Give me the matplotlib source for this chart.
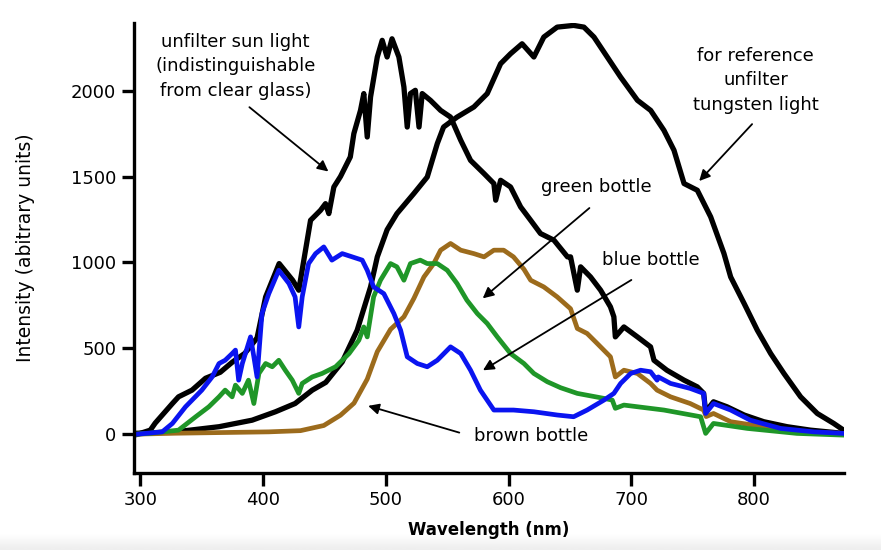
import matplotlib
matplotlib.use("Agg")
import matplotlib.pyplot as plt
import numpy as np

# spectra (wavelength nm, intensity a.u.)
sun_nm = [298, 308, 312, 326, 331, 342, 353, 365, 375, 385, 395, 402, 413, 424, 429,
          434.5, 438.6, 446.7, 450.8, 453.5, 457.6, 463, 471, 473.9, 479.3, 482, 484.8,
          487.5, 493, 497, 501, 505, 510.6, 514.7, 517.4, 520, 524, 527, 529.6, 536.4,
          544.6, 552.7, 561, 569, 580, 588, 589.5, 593.5, 601.6, 609.8, 618, 626, 637,
          648, 650.5, 656, 658.7, 666.8, 675, 683, 685.8, 687, 694, 705, 715.7, 718.5,
          729, 743, 753.8, 759, 760.6, 767, 778, 792, 808, 827, 846, 873]
sun_int = [0, 23, 64, 178, 217, 256, 325, 360, 420, 470, 560, 799, 993, 896, 838,
           1071, 1245, 1303, 1342, 1284, 1439, 1500, 1614, 1750, 1885, 1983, 1730,
           1963, 2196, 2293, 2196, 2302, 2196, 2021, 1788, 1983, 2002, 1788, 1983, 1943,
           1885, 1846, 1711, 1594, 1517, 1459, 1362, 1478, 1439, 1323, 1245, 1168, 1129,
           1032, 1032, 838, 974, 915, 838, 741, 683, 566, 624, 566, 508, 430,
           372, 314, 275, 237, 130, 188, 159, 111, 72, 43, 23, 4]

tung_nm = [298, 328.5, 364, 391, 410, 426, 440, 451, 464.4, 476.6, 487.5, 493, 501,
           509, 522.8, 533.7, 541.9, 547, 558, 571.7, 582.6, 593.5, 601.6, 611, 620.6,
           628.7, 639.6, 653, 661.4, 669.6, 680.4, 691.3, 705, 715.8, 726.6, 734.8, 743,
           753.8, 764.7, 775.5, 781, 792, 802.7, 813.6, 824.4, 838, 851.6, 865, 873]
tung_int = [5, 13, 43, 81, 130, 178, 256, 301, 420, 605, 857, 1032, 1190,
            1284, 1401, 1497, 1692, 1788, 1846, 1905, 1983, 2157, 2215, 2273, 2196,
            2312, 2370, 2380, 2370, 2312, 2196, 2079, 1944, 1885, 1769, 1653, 1459,
            1420, 1265, 1052, 915, 760, 605, 469, 353, 217, 120, 62, 23]

blue_nm = [298, 317.7, 326, 336.7, 350, 358.4, 364, 369, 374.7, 377.4, 380, 383, 389.7,
           392.4, 395, 399, 404.6, 412.7, 421, 426, 429, 431.8, 437, 442.7, 449.4, 456,
           464.4, 472.6, 480.7, 484.8, 490, 498.3, 506.5, 512, 517.4, 525.6, 533.7,
           541.9, 552.7, 561, 569, 577, 588, 604, 620.6, 639.7, 653, 664, 677.7, 685.8,
           691.3, 699.5, 707.6, 715.7, 721, 722, 732, 748, 759, 760.6, 767, 781, 797,
           821.7, 849, 873]
blue_int = [0, 13, 62, 159, 256, 333, 411, 430, 469, 489, 314, 411, 566,
            450, 333, 702, 818, 954, 877, 799, 624, 799, 993, 1051, 1090, 1013,
            1051, 1032, 1013, 954, 857, 818, 702, 605, 450, 411, 392,
            430, 508, 469, 372, 256, 140, 140, 130, 111, 101, 140, 198, 237,
            295, 353, 372, 363, 314, 333, 295, 266, 237, 120, 178, 140, 81,
            33, 13, 4]

green_nm = [298, 306.8, 331, 345, 355.7, 364, 369, 374.7, 377.4, 383, 388, 392.4, 396.5,
            402, 407.4, 412.7, 418, 423.7, 429, 431.8, 440, 448, 459, 470, 478, 482,
            484.8, 490, 495.6, 503.8, 509, 514.7, 520, 528, 533.7, 541.9, 550, 558, 566,
            574.5, 582.6, 590.8, 601.6, 612.5, 620.6, 631.5, 642.4, 656, 677.7, 684.5,
            687, 694, 726.6, 756.5, 760.6, 767, 794.6, 835, 873]
green_int = [0, 4, 23, 101, 159, 217, 256, 217, 285, 237, 314, 178, 353,
             411, 392, 430, 372, 314, 237, 295, 333, 353, 392, 469, 547, 624,
             566, 799, 896, 993, 974, 896, 993, 1013, 993, 993, 954, 877, 780,
             702, 644, 566, 469, 411, 353, 305, 270, 237, 208, 198,
             150, 169, 140, 101, 4, 62, 33, 4, -6]

brown_nm = [298, 328.5, 404.6, 430.4, 449.4, 463, 474, 484.8, 493, 503.8, 514.7, 522.8,
            531, 539, 544.6, 552.7, 561, 571.7, 580, 588, 596, 604, 612.5, 618, 628.7,
            639.6, 650.5, 656, 664, 672.3, 683, 687, 694, 705, 715.7, 721, 732, 748, 759,
            761, 767, 781, 808, 835, 873]
brown_int = [0, 5, 13, 20, 50, 110, 180, 320, 480, 610, 683, 790,
             915, 993, 1071, 1110, 1071, 1051, 1032, 1071, 1071, 1032, 960, 896, 857,
             799, 730, 615, 586, 527, 450, 333, 372, 353, 295, 256, 217, 178, 140,
             102, 120, 72, 43, 13, 4]

x_ticks = [300, 400, 500, 600, 700, 800]
y_ticks = [0, 500, 1000, 1500, 2000]

fig = plt.figure(figsize=(8.81, 5.5), dpi=100, facecolor='white')

# faint grey band at the very bottom (screenshot edge)
band = fig.add_axes([0, 0, 1, 0.03])
band.imshow(np.linspace(1.0, 0.93, 20).reshape(-1, 1), aspect='auto', cmap='gray',
            vmin=0, vmax=1)
band.axis('off')

ax = fig.add_axes([0.1525, 0.1405, 0.805, 0.818])

lw = 3.4
ax.plot(tung_nm, tung_int, color='black', lw=lw + 0.4, solid_joinstyle='round')
ax.plot(sun_nm, sun_int, color='black', lw=lw + 0.4, solid_joinstyle='round')
ax.plot(brown_nm, brown_int, color='#9c6b1c', lw=lw, solid_joinstyle='round')
ax.plot(green_nm, green_int, color='#1f9628', lw=lw, solid_joinstyle='round')
ax.plot(blue_nm, blue_int, color='#0a14f0', lw=lw, solid_joinstyle='round')

ax.set_xlim(295, 873)
ax.set_ylim(-225, 2395)
ax.set_xticks(x_ticks)
ax.set_yticks(y_ticks)
for s in ['top', 'right']:
    ax.spines[s].set_visible(False)
for s in ['left', 'bottom']:
    ax.spines[s].set_linewidth(2.4)
ax.tick_params(direction='out', length=9, width=2.4, labelsize=13, pad=4)

ax.set_xlabel('Wavelength (nm)', fontsize=12, fontweight='bold', labelpad=9)
ax.set_ylabel('Intensity (abitrary units)', fontsize=13.5, labelpad=26)

arrow = dict(arrowstyle='-|>', color='black', lw=1.3, mutation_scale=16)
fs = 13
ax.annotate('', xy=(454.9, 1519), xytext=(387, 1914), arrowprops=arrow)
ax.text(377.4, 2141, 'unfilter sun light\n(indistinguishable\nfrom clear glass)',
        ha='center', va='center', fontsize=fs, linespacing=1.45)

ax.annotate('', xy=(753.8, 1462), xytext=(800, 1817), arrowprops=arrow)
ax.text(801.4, 2060, 'for reference\nunfilter\ntungsten light',
        ha='center', va='center', fontsize=fs, linespacing=1.45)

ax.annotate('', xy=(577.2, 780), xytext=(667.6, 1327), arrowprops=arrow)
ax.text(671.5, 1437, 'green bottle', ha='center', va='center', fontsize=fs)

ax.annotate('', xy=(577.2, 363), xytext=(702, 906), arrowprops=arrow)
ax.text(715.7, 1013, 'blue bottle', ha='center', va='center', fontsize=fs)

ax.annotate('', xy=(483.4, 169), xytext=(562, 4), arrowprops=arrow)
ax.text(618, -10, 'brown bottle', ha='center', va='center', fontsize=fs)

fig.savefig('out.png', dpi=100, facecolor='white')
